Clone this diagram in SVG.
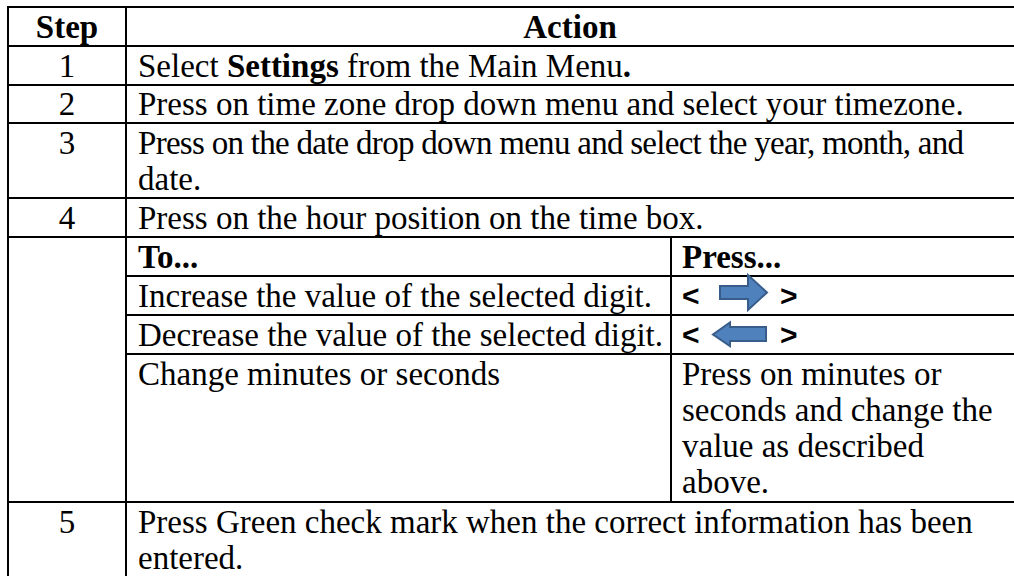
<svg xmlns="http://www.w3.org/2000/svg" width="1014" height="576" viewBox="0 0 1014 576">
<style>
.t{font-family:"Liberation Serif","Times New Roman",serif;font-size:33px;fill:#000}
.b{font-weight:bold}
.c{text-anchor:middle}
.s{font-family:"Liberation Sans",Arial,sans-serif;font-weight:bold;font-size:30px;fill:#000}
.ln{stroke:#000;stroke-width:2;fill:none}
.arr{fill:#4f81bd;stroke:#385d8a;stroke-width:2;stroke-linejoin:miter}
</style>
<rect width="1014" height="576" fill="#fff"/>
<g id="grid">
<path class="ln" d="M8 7H1014M8 46H1014M8 85H1014M8 123H1014M8 198H1014M8 237H1014M126 276H1014M126 315H1014M126 354H1014M8 502H1014"/>
<path class="ln" d="M8 6V576M126 6V576M671 237V502"/>
</g>
<g id="header">
<text class="t b c" x="67" y="38">Step</text>
<text class="t b c" x="570" y="38">Action</text>
</g>
<g id="step1">
<text class="t c" x="67" y="77">1</text>
<text class="t" x="138" y="77">Select <tspan class="b">Settings</tspan> from the Main Menu<tspan class="b">.</tspan></text>
</g>
<g id="step2">
<text class="t c" x="67" y="115">2</text>
<text class="t" x="138" y="115">Press on time zone drop down menu and select your timezone.</text>
</g>
<g id="step3">
<text class="t c" x="67" y="154">3</text>
<text class="t" x="138" y="154" textLength="826" lengthAdjust="spacing">Press on the date drop down menu and select the year, month, and</text>
<text class="t" x="138" y="190">date.</text>
</g>
<g id="step4">
<text class="t c" x="67" y="229">4</text>
<text class="t" x="138" y="229">Press on the hour position on the time box.</text>
</g>
<g id="subtable">
<g id="sub-header">
<text class="t b" x="138" y="268">To...</text>
<text class="t b" x="682" y="268">Press...</text>
</g>
<g id="sub-increase">
<text class="t" x="138" y="307">Increase the value of the selected digit.</text>
<text class="s" x="682" y="306">&lt;</text>
<path class="arr" d="M720 286H748V275L767 292.5L748 310V299H720Z"/>
<text class="s" x="780" y="306">&gt;</text>
</g>
<g id="sub-decrease">
<text class="t" x="138" y="346">Decrease the value of the selected digit.</text>
<text class="s" x="682" y="345">&lt;</text>
<path class="arr" d="M766 327H730V322.5L713 334.5L730 346V341H766Z"/>
<text class="s" x="780" y="345">&gt;</text>
</g>
<g id="sub-change">
<text class="t" x="138" y="385">Change minutes or seconds</text>
<text class="t" x="682" y="385">Press on minutes or</text>
<text class="t" x="682" y="421">seconds and change the</text>
<text class="t" x="682" y="457">value as described</text>
<text class="t" x="682" y="493">above.</text>
</g>
</g>
<g id="step5">
<text class="t c" x="67" y="533">5</text>
<text class="t" x="138" y="533">Press Green check mark when the correct information has been</text>
<text class="t" x="138" y="569">entered.</text>
</g>
</svg>
